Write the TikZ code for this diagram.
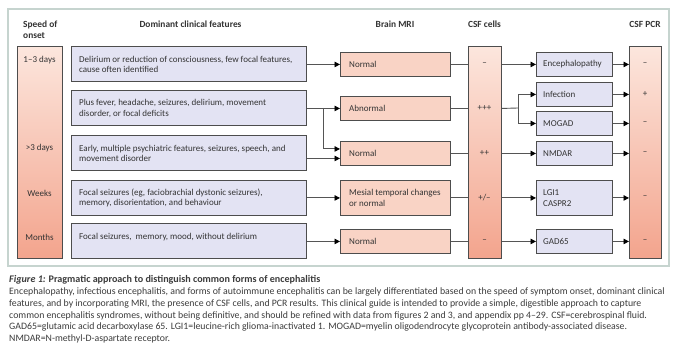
\documentclass[tikz,border=0pt]{standalone}
\usepackage{fontspec}
\setmainfont{Carlito}
\usetikzlibrary{arrows.meta,calc}
\definecolor{lav}{HTML}{E3E3F3}
\definecolor{peach}{HTML}{F9D3C5}
\definecolor{coltop}{HTML}{FCE6DD}
\definecolor{colbot}{HTML}{F3A48D}
\definecolor{bord}{HTML}{4D4D4D}
\definecolor{framec}{HTML}{C6D4CF}
\definecolor{txt}{HTML}{333333}
\definecolor{lnc}{HTML}{555555}
\definecolor{captxt}{HTML}{3C3C3C}
\begin{document}
\begin{tikzpicture}[x=1pt,y=-1pt,
  box/.style={draw=bord, line width=0.9pt, inner sep=0pt, anchor=north west},
  cbox/.style={box, fill=lav, minimum width=235pt, minimum height=35pt},
  mbox/.style={box, fill=peach, minimum width=110pt, minimum height=24pt},
  dbox/.style={box, fill=lav, minimum width=76pt, minimum height=24pt},
  colbox/.style={box, top color=coltop, bottom color=colbot, minimum height=212pt},
  btext/.style={inner sep=0pt, anchor=west, align=left, text=txt, font=\fontsize{9}{10.5}\selectfont},
  ctext/.style={inner sep=0pt, text=txt, font=\fontsize{9}{10.5}\selectfont},
  head/.style={inner sep=0pt, text=txt, font=\fontsize{9.4}{11}\selectfont\bfseries},
  captl/.style={inner sep=0pt, anchor=base west, text=captxt, font=\fontsize{9.8}{11}\selectfont},
  ln/.style={draw=lnc, line width=0.9pt},
  arr/.style={ln, -{Triangle[length=5.5pt,width=5.5pt,color=black]}}
]
\useasboundingbox[fill=white] (0,0) rectangle (680,355);
\draw[framec, line width=1.2pt] (8,9) rectangle (669,266);

% headers
\node[head, anchor=west, align=left] (h1) at (23,29.5) {Speed of\\onset};
\node[head] (h2) at (190.5,24) {Dominant clinical features};
\node[head] (h3) at (395,24) {Brain MRI};
\node[head] (h4) at (484.5,24) {CSF cells};
\node[head] (h5) at (645,24) {CSF PCR};

% speed column
\node[colbox, minimum width=45pt] (speed) at (17,46) {};
\node[ctext] (s1) at (39.5,60) {1--3 days};
\node[ctext] (s2) at (39.5,148) {>3 days};
\node[ctext] (s3) at (39.5,193) {Weeks};
\node[ctext] (s4) at (39.5,237) {Months};

% clinical boxes
\node[cbox] (c1) at (71,46.5) {};
\node[cbox] (c2) at (71,90.5) {};
\node[cbox] (c3) at (71,135.5) {};
\node[cbox] (c4) at (71,180) {};
\node[cbox] (c5) at (71,223.5) {};
\node[btext] (tc1) at ([xshift=8pt]c1.west) {Delirium or reduction of consciousness, few focal features,\\cause often identified};
\node[btext] (tc2) at ([xshift=8pt]c2.west) {Plus fever, headache, seizures, delirium, movement\\disorder, or focal deficits};
\node[btext] (tc3) at ([xshift=8pt]c3.west) {Early, multiple psychiatric features, seizures, speech, and\\movement disorder};
\node[btext] (tc4) at ([xshift=8pt]c4.west) {Focal seizures (eg, faciobrachial dystonic seizures),\\memory, disorientation, and behaviour};
\node[btext] (tc5) at ([xshift=8pt]c5.west) {Focal seizures,\ \ memory, mood, without delirium\\\mbox{}};

% MRI boxes
\node[mbox] (m1) at (340,52) {};
\node[mbox] (m2) at (340,96) {};
\node[mbox] (m3) at (340,141) {};
\node[mbox, minimum height=35pt] (m4) at (340,180) {};
\node[mbox] (m5) at (340,229) {};
\node[btext] (tm1) at ([xshift=9pt]m1.west) {Normal};
\node[btext] (tm2) at ([xshift=9pt]m2.west) {Abnormal};
\node[btext] (tm3) at ([xshift=9pt]m3.west) {Normal};
\node[btext] (tm4) at ([xshift=9pt]m4.west) {Mesial temporal changes\\or normal};
\node[btext] (tm5) at ([xshift=9pt]m5.west) {Normal};

% CSF cells column
\node[colbox, minimum width=33pt] (cells) at (468,46) {};
\node[ctext] (k1) at (484.5,64) {--};
\node[ctext] (k2) at (484.5,108) {+++};
\node[ctext] (k3) at (484.5,153) {++};
\node[ctext] (k4) at (484.5,197.5) {+/--};
\node[ctext] (k5) at (484.5,241) {--};

% diagnosis boxes
\node[dbox] (d1) at (536,52) {};
\node[dbox] (d2) at (536,82) {};
\node[dbox] (d3) at (536,111) {};
\node[dbox] (d4) at (536,141) {};
\node[dbox, minimum height=35pt] (d5) at (536,180) {};
\node[dbox] (d6) at (536,229) {};
\node[btext] (td1) at ([xshift=7pt]d1.west) {Encephalopathy};
\node[btext] (td2) at ([xshift=7pt]d2.west) {Infection};
\node[btext] (td3) at ([xshift=7pt]d3.west) {MOGAD};
\node[btext] (td4) at ([xshift=7pt]d4.west) {NMDAR};
\node[btext] (td5) at ([xshift=7pt]d5.west) {LGI1\\CASPR2};
\node[btext] (td6) at ([xshift=7pt]d6.west) {GAD65};

% CSF PCR column
\node[colbox, minimum width=32pt] (pcr) at (629,46) {};
\node[ctext] (p1) at (645,64) {--};
\node[ctext] (p2) at (645,94) {+};
\node[ctext] (p3) at (645,123) {--};
\node[ctext] (p4) at (645,153) {--};
\node[ctext] (p5) at (645,197.5) {--};
\node[ctext] (p6) at (645,241) {--};

% clinical -> MRI
\draw[arr] (c1.east) -- (m1.west);
\draw[arr] (c2.east) -- (m2.west);
\coordinate (b1) at (323,108);
\draw[arr] (b1) |- ([yshift=4.5pt]m3.west);
\draw[arr] ([yshift=-5pt]c3.east) -- ([yshift=-5pt]m3.west);
\draw[arr] (c4.east) -- (m4.west);
\draw[arr] (c5.east) -- (m5.west);

% MRI -> cells
\foreach \m in {m1,m2,m3,m4,m5}{\draw[ln] (\m.east) -- (\m.east -| cells.west);}

% cells -> diagnosis
\draw[arr] (m1.east -| cells.east) -- (d1.west);
\coordinate (b2) at (518,108);
\draw[ln] (m2.east -| cells.east) -- (b2);
\draw[arr] (b2) |- (d2.west);
\draw[arr] (b2) |- (d3.west);
\draw[arr] (m3.east -| cells.east) -- (d4.west);
\draw[arr] (m4.east -| cells.east) -- (d5.west);
\draw[arr] (m5.east -| cells.east) -- (d6.west);

% diagnosis -> PCR
\foreach \d in {d1,d2,d3,d4,d5,d6}{\draw[arr] (\d.east) -- (\d.east -| pcr.west);}

% caption
\node[captl, font=\fontsize{10.1}{11}\selectfont\bfseries] (cap0) at (9,283) {\textit{Figure 1:} Pragmatic approach to distinguish common forms of encephalitis};
\node[captl] (cap1) at (9,295) {Encephalopathy, infectious encephalitis, and forms of autoimmune encephalitis can be largely differentiated based on the speed of symptom onset, dominant clinical};
\node[captl] (cap2) at (9,307) {features, and by incorporating MRI, the presence of CSF cells, and PCR results. This clinical guide is intended to provide a simple, digestible approach to capture};
\node[captl] (cap3) at (9,318.5) {common encephalitis syndromes, without being definitive, and should be refined with data from figures 2 and 3, and appendix pp 4--29. CSF=cerebrospinal fluid.};
\node[captl] (cap4) at (9,330) {GAD65=glutamic acid decarboxylase 65. LGI1=leucine-rich glioma-inactivated 1. MOGAD=myelin oligodendrocyte glycoprotein antibody-associated disease.};
\node[captl] (cap5) at (9,341.5) {NMDAR=N-methyl-D-aspartate receptor.};
\end{tikzpicture}
\end{document}
